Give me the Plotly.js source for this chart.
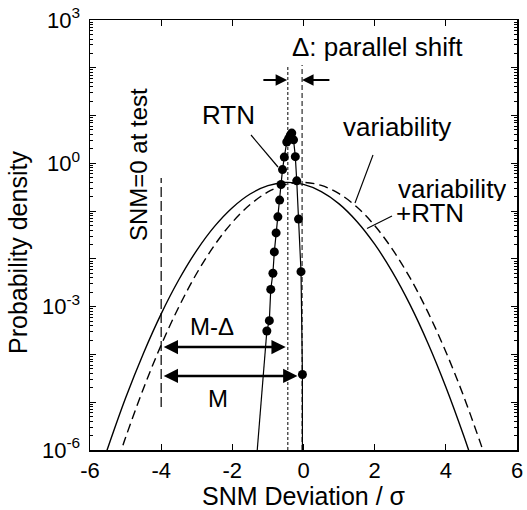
<!DOCTYPE html>
<html>
<head>
<meta charset="utf-8">
<script src="https://cdn.plot.ly/plotly-3.0.1.min.js"></script>
<style>
  html, body { margin: 0; padding: 0; background: #fff; }
  #chart { width: 527px; height: 510px; }
</style>
</head>
<body>
<div id="chart"></div>
<script>
// Distribution of SNM deviation (in units of sigma), log-scale probability density.

// "variability + RTN" distribution (solid curve)
const shiftedX = [-5.6, -5.5, -5.0, -4.5, -4.0, -3.5, -3.0, -2.5, -2.0, -1.5, -1.0, -0.5,
                  0.0, 0.5, 1.0, 1.5, 2.0, 2.5, 3.0, 3.5, 4.0, 4.5, 4.8];
const shiftedY = [6.6e-7, 1.10e-6, 1.22e-5, 1.05e-4, 7.08e-4, 3.70e-3, 0.0151, 0.0479, 0.118, 0.228, 0.341, 0.398,
                  0.362, 0.256, 0.142, 0.0608, 0.0203, 5.30e-3, 1.08e-3, 1.70e-4, 2.09e-5, 2.01e-6, 4.4e-7];

// "variability" distribution (dashed curve)
const variabilityX = [-5.2, -5.0, -4.5, -4.0, -3.5, -3.0, -2.5, -2.0, -1.5, -1.0, -0.5, 0.0,
                      0.5, 1.0, 1.5, 2.0, 2.5, 3.0, 3.5, 4.0, 4.5, 5.0, 5.2];
const variabilityY = [6.6e-7, 1.82e-6, 1.92e-5, 1.57e-4, 1.00e-3, 5.00e-3, 0.0194, 0.0585, 0.137, 0.252, 0.359, 0.399,
                      0.345, 0.232, 0.122, 0.0498, 0.0158, 3.94e-3, 7.59e-4, 1.14e-4, 1.34e-5, 1.22e-6, 4.4e-7];

// RTN measured distribution (dots)
const rtnX = [-1.03, -0.96, -0.92, -0.86, -0.82, -0.77, -0.72, -0.67, -0.63, -0.59, -0.54,
              -0.47, -0.42, -0.37, -0.33, -0.28, -0.23, -0.19, -0.14, -0.07, -0.03];
const rtnY = [3.1e-4, 5.1e-4, 2.3e-3, 5.0e-3, 0.014, 0.035, 0.076, 0.17, 0.36, 0.74, 1.35,
              2.8, 3.3, 3.9, 4.3, 3.1, 1.38, 0.43, 0.068, 5.4e-3, 3.8e-5];

// RTN tails extending below the last measured points
const rtnTailX = [-1.03, -1.30, null, -0.03, -0.03];
const rtnTailY = [3.1e-4, 1e-6, null, 3.8e-5, 1e-6];

// Axis ticks
const xTickVals = [-6, -4, -2, 0, 2, 4, 6];
const xTickText = ['-6', '-4', '-2', '0', '2', '4', '6'];
const yLabelVals = [1e-6, 1e-3, 1e0, 1e3];
const yLabelText = ['10<sup>-6</sup>', '10<sup>-3</sup>', '10<sup>0</sup>', '10<sup>3</sup>'];
const yDecadeVals = [1e-6, 1e-5, 1e-4, 1e-3, 1e-2, 1e-1, 1e0, 1e1, 1e2, 1e3];

// minor log ticks 2..9 within every decade
const yMinor = [];
for (let e = -6; e < 3; e++) {
  for (let k = 2; k <= 9; k++) yMinor.push(k * Math.pow(10, e));
}

const FONT = 'Liberation Sans, Arial, sans-serif';
const black = '#000';

const traces = [
  {
    x: shiftedX, y: shiftedY, type: 'scatter', mode: 'lines',
    line: { color: black, width: 1.4, shape: 'spline' }, hoverinfo: 'skip'
  },
  {
    x: variabilityX, y: variabilityY, type: 'scatter', mode: 'lines',
    line: { color: black, width: 1.4, dash: '9px,5px', shape: 'spline' }, hoverinfo: 'skip'
  },
  {
    // drawn against the unlabeled decade-tick axis (same scale as the main one)
    x: rtnTailX, y: rtnTailY, type: 'scatter', mode: 'lines', yaxis: 'y2',
    line: { color: black, width: 1.2 }, hoverinfo: 'skip'
  },
  {
    x: rtnX, y: rtnY, type: 'scatter', mode: 'lines+markers',
    line: { color: black, width: 1.2 },
    marker: { color: black, size: 9 }, hoverinfo: 'skip'
  }
];

// helpers: pixel positions inside the plot area -> paper fractions
const PL = 90, PR = 517, PT = 20, PB = 450;
const px = v => (v - PL) / (PR - PL);
const py = v => (PB - v) / (PB - PT);

const shapes = [
  // shifted mean (dotted) and original mean (dashed)
  { type: 'line', xref: 'x', yref: 'paper', x0: -0.44, x1: -0.44, y0: 0, y1: py(65),
    line: { color: black, width: 1, dash: '3px,2px' } },
  { type: 'line', xref: 'x', yref: 'paper', x0: -0.04, x1: -0.04, y0: 0, y1: py(65),
    line: { color: black, width: 1, dash: '5px,3px' } },
  // SNM = 0 at test
  { type: 'line', xref: 'x', yref: 'paper', x0: -4, x1: -4, y0: py(407), y1: py(178),
    line: { color: black, width: 1.2, dash: '10px,4px' } },
  // label pointers
  { type: 'line', xref: 'paper', yref: 'paper', x0: px(251), y0: py(135), x1: px(278), y1: py(167),
    line: { color: black, width: 1.2 } },
  { type: 'line', xref: 'paper', yref: 'paper', x0: px(373), y0: py(155), x1: px(355), y1: py(203),
    line: { color: black, width: 1.2 } },
  { type: 'line', xref: 'paper', yref: 'paper', x0: px(392), y0: py(216), x1: px(367), y1: py(228.5),
    line: { color: black, width: 1.2 } }
];

const txt = (text, x, y, size, opts) => Object.assign({
  text: text, xref: 'paper', yref: 'paper', x: px(x), y: py(y),
  xanchor: 'center', yanchor: 'middle', showarrow: false,
  font: { family: FONT, size: size, color: black }
}, opts || {});

const arrow = (x0, x1, yLog, w, s, side) => ({
  xref: 'x', yref: 'y', axref: 'x', ayref: 'y',
  x: x1, y: yLog, ax: x0, ay: yLog, text: '',
  showarrow: true, arrowhead: 2, arrowsize: s, arrowwidth: w,
  arrowcolor: black, arrowside: side, standoff: 0, startstandoff: 0
});

const annotations = [
  txt('\u0394: parallel shift', 377, 47, 26),
  txt('RTN', 228, 115, 26),
  txt('variability', 397, 127, 26),
  txt('variability', 396, 189, 26, { xanchor: 'left', height: 24 }),
  txt('+RTN', 394, 213, 26, { xanchor: 'left', height: 24 }),
  txt('SNM=0 at test', 138, 165, 24, { textangle: -90 }),
  txt('M-\u0394', 212, 326, 24),
  txt('M', 218, 398, 24),
  txt('Probability density', 18, 253, 25, { textangle: -90 }),
  // shift arrows at the top
  arrow(-1.17, -0.46, 1.743, 2, 1.15, 'end'),
  arrow(0.77, -0.04, 1.743, 2, 1.15, 'end'),
  // margin arrows
  arrow(-3.97, -0.5, -3.845, 2.6, 1.1, 'end+start'),
  arrow(-3.97, -0.17, -4.45, 2.6, 1.1, 'end+start')
];

const yBase = {
  type: 'log', range: [-6, 3], tickmode: 'array',
  ticks: 'inside', tickwidth: 1.2, tickcolor: black,
  showline: true, linecolor: black, linewidth: 1.5, mirror: 'ticks',
  showgrid: false, zeroline: false
};

const layout = {
  width: 527, height: 510,
  margin: { l: PL, r: 527 - PR, t: PT, b: 510 - PB },
  paper_bgcolor: '#fff', plot_bgcolor: '#fff',
  showlegend: false,
  font: { family: FONT, size: 22, color: black },
  xaxis: {
    range: [-6, 6], tickmode: 'array', tickvals: xTickVals, ticktext: xTickText,
    ticks: 'inside', ticklen: 6, tickwidth: 1.2, tickcolor: black,
    showline: true, linecolor: black, linewidth: 1.5, mirror: 'ticks',
    showgrid: false, zeroline: false,
    tickfont: { family: FONT, size: 22, color: black },
    title: { text: 'SNM Deviation / \u03c3', font: { family: FONT, size: 25, color: black }, standoff: 5 }
  },
  yaxis: Object.assign({}, yBase, {
    tickvals: yLabelVals, ticktext: yLabelText, ticklen: 6,
    minor: { tickmode: 'array', tickvals: yMinor, ticks: 'inside', ticklen: 3, tickwidth: 1, tickcolor: black, showgrid: false },
    tickfont: { family: FONT, size: 22, color: black },
    ticklabelstandoff: 4
  }),
  // unlabeled decade ticks
  yaxis2: Object.assign({}, yBase, {
    overlaying: 'y', anchor: 'x', side: 'left',
    tickvals: yDecadeVals, ticklen: 6, showticklabels: false
  }),
  shapes: shapes,
  annotations: annotations
};

Plotly.newPlot('chart', traces, layout, { staticPlot: true, displayModeBar: false });
</script>
</body>
</html>
